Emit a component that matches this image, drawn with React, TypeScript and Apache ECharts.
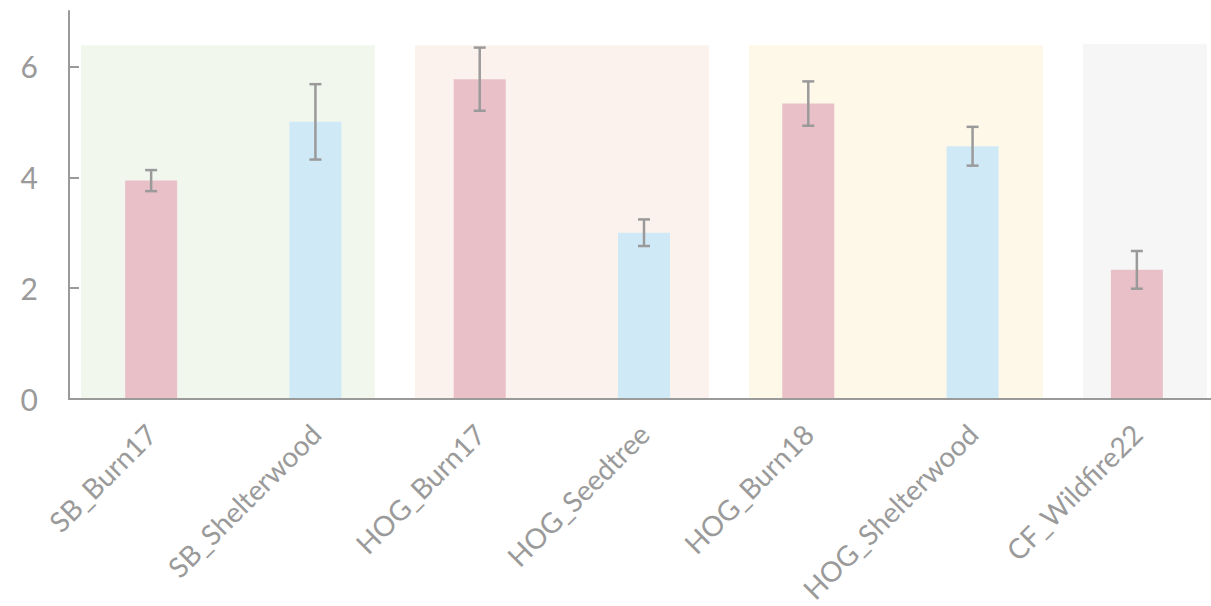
import React, { useEffect, useRef } from "react";
import * as echarts from "echarts";

const categories = [
  "SB_Burn17",
  "SB_Shelterwood",
  "HOG_Burn17",
  "HOG_Seedtree",
  "HOG_Burn18",
  "HOG_Shelterwood",
  "CF_Wildfire22",
];
const means = [3.94, 5.0, 5.77, 3.0, 5.33, 4.56, 2.33];
const errors = [0.19, 0.68, 0.57, 0.24, 0.4, 0.35, 0.34];
const barKinds = ["burn", "harvest", "burn", "harvest", "burn", "harvest", "burn"];
const yTicks = [0, 2, 4, 6];

// background panels per site group: [start, end, top] in category units
const groupStart = [-0.427, 1.606, 3.639, 5.672];
const groupEnd = [1.362, 3.395, 5.428, 6.426];
const groupTop = [6.38, 6.38, 6.38, 6.41];
const groupColors = ["#f2f7ee", "#fcf2ed", "#fef8e9", "#f6f6f6"];

const kindColors: Record<string, string> = { burn: "#e9c0c8", harvest: "#d0e9f7" };
const axisGrey = "#9a9a9a";
const font = "Lato, 'Open Sans', sans-serif";

export default function App() {
  const ref = useRef<HTMLDivElement>(null);
  useEffect(() => {
    if (!ref.current) return;
    const chart = echarts.init(ref.current, null, { renderer: "svg" });
    const bgData = groupStart.map((s, i) => [s, groupEnd[i], groupTop[i]]);
    const errData = means.map((m, i) => [i, m - errors[i], m + errors[i]]);
    chart.setOption({
      animation: false,
      grid: { left: 69, right: 0, top: 11, bottom: 207, containLabel: false },
      xAxis: [
        {
          type: "category",
          data: categories,
          boundaryGap: true,
          axisLine: { show: true, onZero: false, lineStyle: { color: axisGrey, width: 2 } },
          axisTick: { show: false },
          axisLabel: {
            rotate: 45,
            color: axisGrey,
            fontSize: 28,
            fontFamily: font,
            margin: 30,
            interval: 0,
          },
          splitLine: { show: false },
          z: 5,
        },
        {
          type: "value",
          min: -0.5,
          max: 6.5,
          show: false,
          axisLine: { onZero: false },
        },
      ],
      yAxis: {
        type: "value",
        min: 0,
        max: 7,
        axisLine: { show: true, onZero: false, lineStyle: { color: axisGrey, width: 2 } },
        axisTick: {
          show: true,
          inside: true,
          length: 10,
          customValues: yTicks,
          lineStyle: { color: axisGrey, width: 2 },
        },
        axisLabel: {
          color: axisGrey,
          fontSize: 30,
          fontFamily: font,
          margin: 31,
          customValues: yTicks,
        },
        splitLine: { show: false },
        z: 5,
      },
      series: [
        {
          type: "custom",
          xAxisIndex: 1,
          data: bgData,
          z: 0,
          silent: true,
          renderItem: (params: any, api: any) => {
            const p0 = api.coord([api.value(0), api.value(2)]);
            const p1 = api.coord([api.value(1), 0]);
            return {
              type: "rect",
              shape: { x: p0[0], y: p0[1], width: p1[0] - p0[0], height: p1[1] - p0[1] },
              style: { fill: groupColors[params.dataIndex] },
            };
          },
        },
        {
          type: "bar",
          xAxisIndex: 0,
          barWidth: 52,
          z: 2,
          data: means.map((v, i) => ({ value: v, itemStyle: { color: kindColors[barKinds[i]] } })),
        },
        {
          type: "custom",
          xAxisIndex: 0,
          data: errData,
          z: 3,
          silent: true,
          renderItem: (params: any, api: any) => {
            const lo = api.coord([api.value(0), api.value(1)]);
            const hi = api.coord([api.value(0), api.value(2)]);
            const hw = 6;
            const style = { stroke: axisGrey, lineWidth: 2.5 };
            return {
              type: "group",
              children: [
                { type: "line", shape: { x1: hi[0], y1: hi[1], x2: lo[0], y2: lo[1] }, style },
                { type: "line", shape: { x1: hi[0] - hw, y1: hi[1], x2: hi[0] + hw, y2: hi[1] }, style },
                { type: "line", shape: { x1: lo[0] - hw, y1: lo[1], x2: lo[0] + hw, y2: lo[1] }, style },
              ],
            };
          },
        },
      ],
    });
    return () => chart.dispose();
  }, []);
  return (
    <div style={{ position: "fixed", left: 0, top: 0, width: 1211, height: 606, overflow: "hidden", background: "#fff" }}>
      <div ref={ref} style={{ width: 1219, height: 606 }} />
    </div>
  );
}
